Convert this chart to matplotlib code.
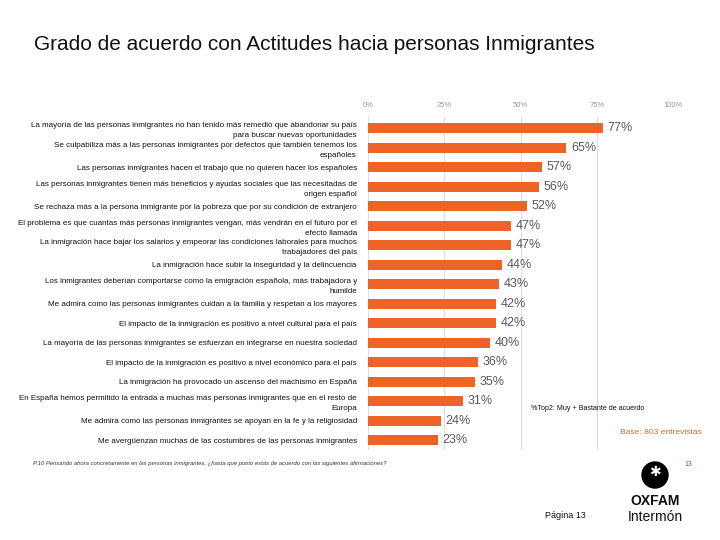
import matplotlib.pyplot as plt
import matplotlib.patches as mpatches

# Datos
afirmaciones = [
    "La mayoría de las personas inmigrantes no han tenido más remedio que abandonar su país\npara buscar nuevas oportunidades",
    "Se culpabiliza más a las personas inmigrantes por defectos que también tenemos los\nespañoles",
    "Las personas inmigrantes hacen el trabajo que no quieren hacer los españoles",
    "Las personas inmigrantes tienen más beneficios y ayudas sociales que las necesitadas de\norigen español",
    "Se rechaza más a la persona inmigrante por la pobreza que por su condición de extranjero",
    "El problema es que cuantas más personas inmigrantes vengan, más vendrán en el futuro por el\nefecto llamada",
    "La inmigración hace bajar los salarios y empeorar las condiciones laborales para muchos\ntrabajadores del país",
    "La inmigración hace subir la inseguridad y la delincuencia",
    "Los inmigrantes deberían comportarse como la emigración española, más trabajadora y\nhumilde",
    "Me admira como las personas inmigrantes cuidan a la familia y respetan a los mayores",
    "El impacto de la inmigración es positivo a nivel cultural para el país",
    "La mayoría de las personas inmigrantes se esfuerzan en integrarse en nuestra sociedad",
    "El impacto de la inmigración es positivo a nivel económico para el país",
    "La inmigración ha provocado un ascenso del machismo en España",
    "En España hemos permitido la entrada a muchas más personas inmigrantes que en el resto de\nEuropa",
    "Me admira como las personas inmigrantes se apoyan en la fe y la religiosidad",
    "Me avergüenzan muchas de las costumbres de las personas inmigrantes",
]
porcentajes = [77, 65, 57, 56, 52, 47, 47, 44, 43, 42, 42, 40, 36, 35, 31, 24, 23]
ticks = [0, 25, 50, 75, 100]

plt.rcParams['font.family'] = ['Liberation Sans', 'DejaVu Sans']

fig = plt.figure(figsize=(7.2, 5.4), dpi=100)
ax = fig.add_axes([0.511, 0.167, 0.424, 0.616])

pos = list(range(len(porcentajes)))
ax.barh(pos, porcentajes, height=0.52, color='#EE6427', zorder=3)
for p, v in zip(pos, porcentajes):
    ax.text(v + 1.5, p, f"{v}%", va='center', ha='left', fontsize=9, color='#5a5a5a')

ax.set_xlim(0, 100)
ax.set_ylim(len(porcentajes) - 0.5, -0.56)
ax.set_xticks(ticks)
ax.set_xticklabels([f"{t}%" for t in ticks], fontsize=5.5, color='#999999')
ax.xaxis.tick_top()
ax.tick_params(axis='x', length=0, pad=6)
ax.grid(axis='x', color='#dddddd', linewidth=0.8, zorder=0)
ax.set_yticks(pos)
ax.set_yticklabels(afirmaciones, fontsize=5.8, color='#111111', linespacing=1.6)
ax.tick_params(axis='y', length=0, pad=8)
for s in ax.spines.values():
    s.set_visible(False)

# Textos
fig.text(34/720, 1 - 44/540, "Grado de acuerdo con Actitudes hacia personas Inmigrantes",
         fontsize=15, va='center', ha='left', color='#111111')
fig.text(531/720, 1 - 408/540, "%Top2: Muy + Bastante de acuerdo", fontsize=5.1,
         va='center', ha='left', color='#111111')
fig.text(620/720, 1 - 432/540, "Base: 803 entrevistas", fontsize=6.1,
         va='center', ha='left', color='#C0703A')
fig.text(33/720, 1 - 463/540,
         "P.10 Pensando ahora concretamente en las personas inmigrantes, ¿hasta qué punto estás de acuerdo con las siguientes afirmaciones?",
         fontsize=4.2, style='italic', va='center', ha='left', color='#333333')
fig.text(688/720, 1 - 464/540, "13", fontsize=5, va='center', ha='center', color='#2e7d5b')
fig.text(545/720, 1 - 516/540, "Página 13", fontsize=6.5, va='center', ha='left', color='#111111')

# Logo
fig.patches.append(mpatches.Ellipse((655/720, 1 - 475/540), 26/720, 26/540,
                                    transform=fig.transFigure, color='black'))
fig.text(655/720, 1 - 472/540, "✱", fontsize=10, color='white', ha='center', va='center',
         family=['DejaVu Sans'])
fig.text(655/720, 1 - 501/540, "OXFAM", fontsize=10, fontweight='bold', ha='center',
         va='center', color='#111111')
fig.text(655/720, 1 - 517/540, "Intermón", fontsize=10, ha='center', va='center', color='#111111')

fig.savefig('out.png', dpi=100)
